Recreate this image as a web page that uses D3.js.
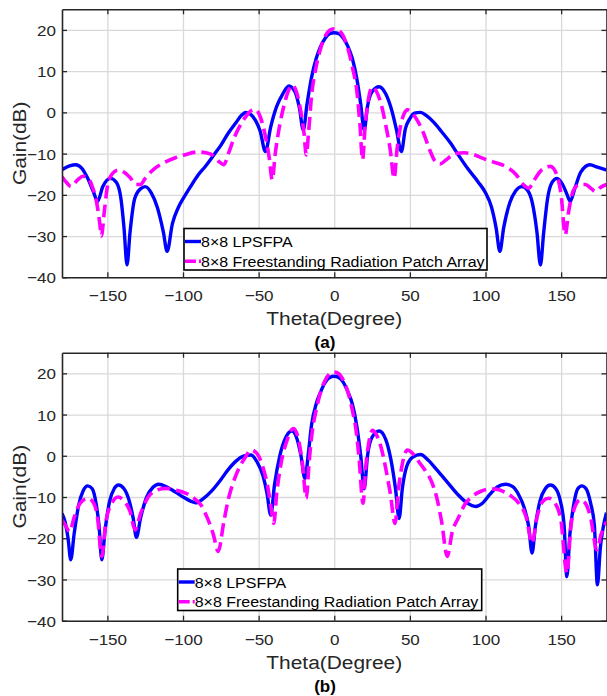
<!DOCTYPE html>
<html>
<head>
<meta charset="utf-8">
<script src="https://cdn.jsdelivr.net/npm/d3@7/dist/d3.min.js"></script>
<style>
  body { margin: 0; background: #fff; }
  svg { display: block; font-family: "Liberation Sans", Arial, sans-serif; }
</style>
</head>
<body>
<svg class="canvas"></svg>
<script>
// chart size
const wWidth = 607;
const wHeight = 696;

// axes values
const thetaTicks = [-150, -100, -50, 0, 50, 100, 150];
const gainTicks = [-40, -30, -20, -10, 0, 10, 20];
const thetaDomain = [-180, 180];
const gainDomain = [-40, 25];
const legendNames = ["8\u00d78 LPSFPA", "8\u00d78 Freestanding Radiation Patch Array"];

// (a) 8x8 LPSFPA  [theta, gain]
const lpsfpaA = [
  [-180,-13.9],[-175,-13],[-171,-12.7],[-167,-13.5],[-163,-16],[-159,-19.5],[-156.5,-21.6],[-153,-18],[-148,-16],
  [-144,-17],[-141,-21],[-139,-28],[-137,-37],[-135,-29],[-132,-21],[-128,-18.5],[-125,-18],[-121,-19.5],[-117,-23],
  [-113,-29],[-110.5,-33.7],[-107,-27],[-103,-23],[-100,-21],[-95,-18],[-90,-15.2],[-85,-13],[-80,-10.5],[-75,-8],
  [-70,-5],[-65,-2.5],[-61,-0.6],[-58.5,0],[-55,-0.6],[-52,-2],[-49,-4.5],[-45.5,-9.5],[-42,-3.5],[-38,1.5],[-34,4.5],
  [-30,6.4],[-26,5],[-23,1],[-20.5,-4.3],[-18,2],[-15,8.5],[-12,13],[-9,16],[-6,18],[-3,19.1],[0,19.3],
  [3,19.1],[6,18],[9,16],[12,13],[15,8],[17.5,2],[19.8,-4.3],[22,1.5],[25,5],[29.7,6.2],[34,4.5],[38,0.5],[41,-4],
  [44.4,-9.5],[47,-4],[50,-1.5],[53,-0.2],[57,0],[61,-0.8],[66,-2.5],[71,-4.7],[77,-7.5],[82,-10.3],[88,-13.5],
  [95,-16.8],[100,-19.5],[104,-23],[107,-28],[109.5,-33.7],[112,-28],[116,-22],[120,-19],[124,-18],[128,-19],
  [131,-22],[134,-29],[136.3,-37],[138.5,-29],[141,-21],[144,-17],[147.3,-16],[151,-17.5],[154,-20],[156,-21.6],
  [159,-18.5],[163,-14.5],[169,-12.7],[174,-13.3],[180,-14]
];

// (a) 8x8 Freestanding Radiation Patch Array
const patchA = [
  [-180,-15.6],[-177,-17],[-174,-18],[-170,-16.5],[-166,-15.5],[-163,-15.8],[-160,-18],[-157,-22],[-155,-27],[-154,-30],
  [-152,-24],[-150,-18],[-147,-15],[-143,-14],[-139,-14.5],[-135,-15.8],[-131,-17.5],[-128,-17.5],[-125,-16],[-120,-14],
  [-113,-12.3],[-105,-11],[-98,-10.2],[-90,-9.6],[-85,-9.8],[-80,-10.5],[-76,-12],[-73,-12.7],[-70,-10],[-66,-6],
  [-62,-3],[-58,-0.8],[-55,0.4],[-52,0.7],[-49,-1],[-46,-5],[-43,-11],[-41,-16.4],[-39,-10],[-36,-3],[-33,2],[-30,5.5],
  [-27.5,6.6],[-25,5],[-22,0],[-20,-5],[-18.5,-10.3],[-17,-5],[-15,4],[-12,11],[-9,15.5],[-6,18.5],[-3,19.9],[0,20.3],
  [3,19.9],[6,18.5],[9,15.5],[12,11],[15,5],[17,-3],[18.7,-11.5],[20.5,-3],[22.5,3],[25.3,6.2],[28,5],[31,2],[34,-3],
  [37,-9],[39.6,-16],[41.5,-9],[44,-3],[46,-0.5],[48.4,0.6],[51,0],[55,-2],[59,-5],[63,-9],[67,-12],[70,-12.5],
  [74,-11.5],[80,-10],[86,-9.8],[92,-10.2],[98,-11.1],[105,-12],[115,-13.5],[120,-15],[125,-17.5],[128.6,-18.4],
  [132,-16.5],[137,-14],[142.9,-13.1],[147,-15],[150,-20],[152.7,-29.7],[155,-24],[158,-19],[162,-17.5],[166,-17.5],
  [170,-18.5],[172.5,-19.2],[176,-18.2],[180,-17.5]
];

// (b) 8x8 LPSFPA
const lpsfpaB = [
  [-180,-14],[-178,-16],[-176,-20],[-174.2,-25.2],[-172,-19],[-169,-12],[-166,-8.5],[-163,-7.3],[-160,-8],[-157.5,-11.5],
  [-155.5,-17],[-153.7,-25.2],[-151.5,-18],[-148.5,-11],[-145.5,-8],[-142.7,-7.1],[-139,-8],[-135.5,-11],[-133,-15],
  [-130.8,-19.8],[-128,-15],[-124,-10],[-120,-7.7],[-116,-6.9],[-111,-7.5],[-105,-8.8],[-99,-10.2],[-95,-11],
  [-91.6,-11.4],[-87,-10.5],[-81,-8.5],[-75,-5.8],[-70,-3.3],[-65,-1.3],[-60,-0.1],[-55,0.2],[-51,-1.5],[-47,-5],
  [-44.5,-9],[-42,-14.4],[-39.5,-7],[-36,0],[-32,4.5],[-28,6],[-25,4.5],[-22,0],[-19.4,-5.5],[-17,1],[-15,7.5],
  [-12,12.5],[-9,15.5],[-6,17.8],[-3,19],[0,19.3],
  [3,19],[6,17.8],[9,15.5],[12,12.5],[15,7],[17.5,0],[19.8,-8],[22,0],[25,4.5],[29.7,6],[34,4],[37.5,-1],[40.5,-8],
  [42.9,-15.2],[45,-8],[48,-2.5],[52,-0.3],[57,0.3],[62,-1],[68,-3.5],[75,-6.5],[82,-9.5],[88,-11.5],[93.4,-12.3],
  [98,-11.5],[103,-9.3],[108,-7.5],[113.2,-6.9],[118,-7.5],[122,-9.5],[125.5,-12.5],[128.5,-17],[130.8,-23.6],
  [133,-17],[136,-11],[139.5,-8],[142.9,-7.1],[146.5,-8],[149.5,-11],[152,-17],[153.8,-29.3],[155.8,-19],[158.5,-11.5],
  [161,-8],[163.7,-7.3],[166.5,-8],[169.5,-11.5],[172,-17],[174,-31.3],[176,-22],[178,-17],[180,-13.8]
];

// (b) 8x8 Freestanding Radiation Patch Array
const patchB = [
  [-180,-15.6],[-177.5,-17],[-175,-18.4],[-172,-15],[-168,-11.5],[-163,-10.3],[-159,-11.5],[-156.5,-15],[-153.7,-24.4],
  [-151,-16],[-147,-11.5],[-143,-10],[-139,-11],[-135,-13.5],[-131.7,-18],[-128,-14],[-123,-10],[-117,-8.3],
  [-111.5,-7.9],[-105,-8.3],[-98,-9.1],[-92,-10.5],[-88,-12],[-84,-15],[-80,-19],[-76.7,-23.2],[-73,-16],[-70,-10.5],
  [-67,-6.7],[-63,-3],[-59,-0.5],[-55,1.4],[-51,0.5],[-47,-3],[-44,-7.5],[-42,-12],[-40,-16.4],[-38,-9],[-35,-1.5],
  [-31,4],[-27,6.6],[-24,4.5],[-21,-2],[-18.5,-10.3],[-16.5,-1],[-14.5,6],[-12,11],[-9,15.5],[-6,18.3],[-3,19.9],[0,20.3],
  [3,19.9],[6,18.3],[9,15.5],[12,11],[14.5,6],[16.5,-1],[19,-11.5],[21,-2],[23,3.5],[25.3,6.2],[28,5],[31,2],[34,-3],
  [37,-9],[40.2,-16.4],[42.5,-8],[45,-2],[48.4,1.4],[52,0.5],[56,-1.5],[60,-3.5],[64.8,-6.7],[68,-10.5],[71,-16],
  [74.7,-24.4],[78,-18.5],[82.4,-14.8],[86,-12],[91,-9.9],[97,-8.6],[102,-8.1],[106.6,-8.1],[112,-8.7],[117,-9.8],
  [122,-11.5],[127,-15],[130.8,-21.2],[134,-15],[138,-11],[141.8,-10.3],[146,-11.5],[150,-16],[153.8,-28.5],
  [156.5,-17],[159.5,-12],[162.6,-10.7],[166,-11.5],[169.5,-15],[173.6,-22.8],[176.5,-19],[180,-16]
];

const colors = ["#0000ff", "#ff00ff"];
const axisColor = "#262626";

const svg = d3.select(".canvas")
  .attr("width", wWidth)
  .attr("height", wHeight);

// MATLAB-ish wide text
const stretch = (sel, k) => sel.each(function() {
  const len = this.getComputedTextLength();
  d3.select(this).attr("textLength", len * k).attr("lengthAdjust", "spacingAndGlyphs");
});

const plotLeft = 62;
const plotRight = 606.5;
const plotH = 268;

const xScale = d3.scaleLinear().domain(thetaDomain).range([plotLeft, plotRight]);

const drawPanel = (top, series, legendPos, label, id) => {
  const yScale = d3.scaleLinear().domain(gainDomain).range([top + plotH, top]);
  const graph = svg.append("g");

  // grid
  graph.append("g")
    .attr("transform", `translate(0, ${top + plotH})`)
    .call(d3.axisBottom(xScale).tickValues(thetaTicks).tickSize(-plotH).tickFormat(""))
    .call(g => g.select(".domain").remove())
    .selectAll("line").attr("stroke", "#d9d9d9").attr("stroke-width", 1.3);
  graph.append("g")
    .attr("transform", `translate(${plotLeft}, 0)`)
    .call(d3.axisLeft(yScale).tickValues(gainTicks).tickSize(-(plotRight - plotLeft)).tickFormat(""))
    .call(g => g.select(".domain").remove())
    .selectAll("line").attr("stroke", "#d9d9d9").attr("stroke-width", 1.3);

  // curves
  graph.append("clipPath").attr("id", id)
    .append("rect")
    .attr("x", plotLeft).attr("y", top)
    .attr("width", plotRight - plotLeft).attr("height", plotH);

  const line = d3.line()
    .x(d => xScale(d[0]))
    .y(d => yScale(d[1]))
    .curve(d3.curveMonotoneX);

  const curves = graph.append("g").attr("clip-path", `url(#${id})`);
  curves.append("path")
    .datum(series[0])
    .attr("d", line)
    .attr("fill", "none")
    .attr("stroke", colors[0])
    .attr("stroke-width", 3.4)
    .attr("stroke-linejoin", "round");
  curves.append("path")
    .datum(series[1])
    .attr("d", line)
    .attr("fill", "none")
    .attr("stroke", colors[1])
    .attr("stroke-width", 3.6)
    .attr("stroke-dasharray", "13,6");

  // axes (ticks inside, box all round)
  graph.append("g")
    .attr("transform", `translate(0, ${top + plotH})`)
    .call(d3.axisBottom(xScale).tickValues(thetaTicks).tickSize(-5).tickPadding(13).tickSizeOuter(0));
  graph.append("g")
    .attr("transform", `translate(0, ${top})`)
    .call(d3.axisTop(xScale).tickValues(thetaTicks).tickSize(-5).tickFormat("").tickSizeOuter(0));
  const yAxisLeft = graph.append("g")
    .attr("transform", `translate(${plotLeft}, 0)`)
    .call(d3.axisLeft(yScale).tickValues(gainTicks).tickSize(-5).tickPadding(6).tickSizeOuter(0));
  graph.append("g")
    .attr("transform", `translate(${plotRight}, 0)`)
    .call(d3.axisRight(yScale).tickValues(gainTicks).tickSize(-5).tickFormat("").tickSizeOuter(0));

  graph.selectAll(".domain").attr("stroke", axisColor).attr("stroke-width", 1.6);
  graph.selectAll(".tick line").filter(function() { return !d3.select(this).attr("stroke-width"); })
    .attr("stroke", axisColor).attr("stroke-width", 1.3);
  graph.selectAll(".tick text")
    .attr("fill", axisColor)
    .style("font-size", "15.5px")
    .call(stretch, 1.1);
  yAxisLeft.selectAll(".tick text").attr("dy", "0.36em");

  // titles
  graph.append("text")
    .attr("transform", `translate(${(plotLeft + plotRight) / 2}, ${top + plotH + 48}) scale(1.1, 1)`)
    .attr("text-anchor", "middle")
    .attr("fill", axisColor)
    .style("font-size", "19px")
    .text("Theta(Degree)");
  graph.append("text")
    .attr("transform", `translate(26, ${top + plotH / 2}) rotate(-90) scale(1.1, 1)`)
    .attr("text-anchor", "middle")
    .attr("fill", axisColor)
    .style("font-size", "19px")
    .text("Gain(dB)");
  graph.append("text")
    .attr("x", 325)
    .attr("y", top + plotH + 71)
    .attr("text-anchor", "middle")
    .attr("fill", "#000")
    .style("font-size", "17px")
    .style("font-weight", "bold")
    .text(label);

  // legend
  const legend = graph.append("g").attr("transform", `translate(${legendPos[0]}, ${legendPos[1]})`);
  legend.append("rect")
    .attr("width", legendPos[2])
    .attr("height", 41.5)
    .attr("fill", "#fff")
    .attr("stroke", "#000")
    .attr("stroke-width", 1.6);
  legendNames.forEach((name, i) => {
    const yy = 13 + i * 19.7;
    legend.append("line")
      .attr("x1", 1).attr("x2", 17)
      .attr("y1", yy).attr("y2", yy)
      .attr("stroke", colors[i])
      .attr("stroke-width", i === 0 ? 3.4 : 3.6)
      .attr("stroke-dasharray", i === 0 ? null : "11,3");
    legend.append("text")
      .attr("x", 17)
      .attr("y", yy)
      .attr("dy", "0.36em")
      .attr("fill", "#000")
      .style("font-size", "15.5px")
      .text(name)
      .call(stretch, 1.03);
  });
};

drawPanel(9.3, [lpsfpaA, patchA], [184, 228.5, 303], "(a)", "clipA");
drawPanel(352.7, [lpsfpaB, patchB], [177.7, 569, 304], "(b)", "clipB");
</script>
</body>
</html>
